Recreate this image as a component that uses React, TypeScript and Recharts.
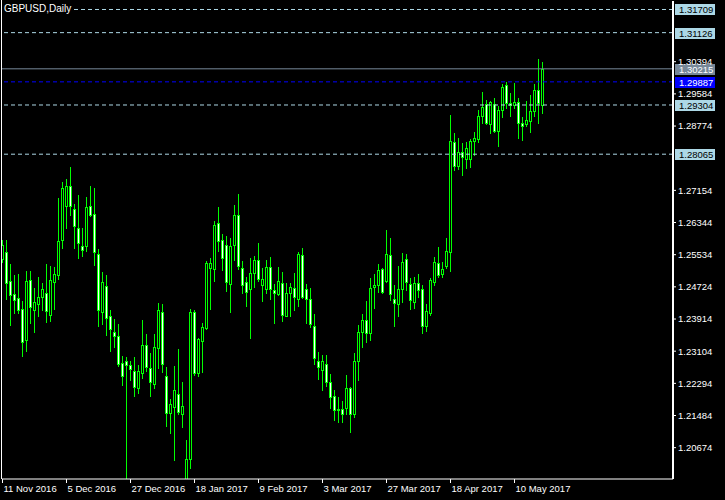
import { ComposedChart, Bar, XAxis, YAxis, ReferenceLine } from 'recharts';

const FONT = '"Liberation Sans", Arial, sans-serif';

// daily bars, 11 Nov 2016 .. 19 May 2017
const opens = [
    1.2543, 1.2559, 1.2486, 1.2454, 1.2444, 1.2416, 1.2339, 1.2489, 1.2413, 1.2429,
    1.2446, 1.2456, 1.2402, 1.2485, 1.2501, 1.2590, 1.2677, 1.2726, 1.2668, 1.2620,
    1.2575, 1.2576, 1.2675, 1.2655, 1.2554, 1.2410, 1.2475, 1.2398, 1.2359, 1.2348,
    1.2281, 1.2285, 1.2276, 1.2261, 1.2218, 1.2256, 1.2325, 1.2267, 1.2228, 1.2318,
    1.2408, 1.2247, 1.2155, 1.2171, 1.2202, 1.2153, 1.1989, 1.2040, 1.2408, 1.2256,
    1.2337, 1.2370, 1.2519, 1.2518, 1.2632, 1.2590, 1.2577, 1.2479, 1.2577, 1.2653,
    1.2519, 1.2484, 1.2466, 1.2507, 1.2539, 1.2476, 1.2466, 1.2522, 1.2464, 1.2454,
    1.2481, 1.2400, 1.2456, 1.2469, 1.2441, 1.2552, 1.2466, 1.2441, 1.2373, 1.2285,
    1.2264, 1.2277, 1.2234, 1.2197, 1.2165, 1.2164, 1.2168, 1.2217, 1.2153, 1.2285,
    1.2358, 1.2388, 1.2355, 1.2473, 1.2476, 1.2517, 1.2488, 1.2552, 1.2441, 1.2428,
    1.2466, 1.2542, 1.2479, 1.2435, 1.2481, 1.2466, 1.2374, 1.2407, 1.2485, 1.2532,
    1.2506, 1.2525, 1.2561, 1.2836, 1.2776, 1.2811, 1.2794, 1.2794, 1.2839, 1.2844,
    1.2902, 1.2932, 1.2882, 1.2932, 1.2864, 1.2919, 1.2982, 1.2935, 1.2930, 1.2937,
    1.2884, 1.2882, 1.2891, 1.2915, 1.2968, 1.2931,
];
const highs = [
    1.2590, 1.2590, 1.2530, 1.2502, 1.2505, 1.2437, 1.2512, 1.2512, 1.2470, 1.2496,
    1.2482, 1.2530, 1.2525, 1.2522, 1.2697, 1.2737, 1.2744, 1.2774, 1.2681, 1.2704,
    1.2621, 1.2698, 1.2727, 1.2722, 1.2568, 1.2510, 1.2502, 1.2414, 1.2392, 1.2379,
    1.2298, 1.2296, 1.2286, 1.2296, 1.2276, 1.2389, 1.2353, 1.2306, 1.2353, 1.2432,
    1.2428, 1.2270, 1.2190, 1.2273, 1.2316, 1.2233, 1.2087, 1.2416, 1.2414, 1.2344,
    1.2381, 1.2537, 1.2544, 1.2638, 1.2673, 1.2605, 1.2600, 1.2595, 1.2679, 1.2706,
    1.2537, 1.2497, 1.2544, 1.2550, 1.2583, 1.2519, 1.2539, 1.2547, 1.2479, 1.2522,
    1.2510, 1.2482, 1.2482, 1.2507, 1.2560, 1.2570, 1.2479, 1.2470, 1.2404, 1.2308,
    1.2301, 1.2301, 1.2252, 1.2213, 1.2196, 1.2186, 1.2250, 1.2219, 1.2307, 1.2376,
    1.2404, 1.2438, 1.2495, 1.2505, 1.2530, 1.2520, 1.2616, 1.2595, 1.2478, 1.2525,
    1.2558, 1.2555, 1.2495, 1.2497, 1.2505, 1.2476, 1.2429, 1.2494, 1.2547, 1.2573,
    1.2534, 1.2595, 1.2905, 1.2860, 1.2847, 1.2835, 1.2837, 1.2845, 1.2862, 1.2918,
    1.2963, 1.2943, 1.2940, 1.2948, 1.2928, 1.2983, 1.2989, 1.2961, 1.2986, 1.2947,
    1.2899, 1.2940, 1.2955, 1.2983, 1.3046, 1.3038,
];
const lows = [
    1.2535, 1.2442, 1.2376, 1.2406, 1.2407, 1.2299, 1.2312, 1.2382, 1.2359, 1.2400,
    1.2415, 1.2385, 1.2386, 1.2417, 1.2492, 1.2569, 1.2621, 1.2654, 1.2569, 1.2546,
    1.2551, 1.2563, 1.2651, 1.2528, 1.2374, 1.2379, 1.2352, 1.2312, 1.2322, 1.2274,
    1.2226, 1.1950, 1.2238, 1.2198, 1.2206, 1.2244, 1.2261, 1.2198, 1.2218, 1.2269,
    1.2259, 1.2122, 1.2105, 1.2036, 1.2151, 1.2120, 1.1980, 1.2015, 1.2250, 1.2249,
    1.2259, 1.2367, 1.2417, 1.2488, 1.2563, 1.2516, 1.2463, 1.2410, 1.2541, 1.2518,
    1.2458, 1.2425, 1.2344, 1.2473, 1.2488, 1.2438, 1.2458, 1.2442, 1.2382, 1.2453,
    1.2386, 1.2399, 1.2400, 1.2415, 1.2425, 1.2445, 1.2382, 1.2372, 1.2279, 1.2240,
    1.2213, 1.2223, 1.2168, 1.2138, 1.2133, 1.2133, 1.2153, 1.2108, 1.2145, 1.2238,
    1.2322, 1.2334, 1.2339, 1.2419, 1.2460, 1.2456, 1.2485, 1.2440, 1.2374, 1.2400,
    1.2433, 1.2464, 1.2417, 1.2420, 1.2447, 1.2356, 1.2361, 1.2402, 1.2477, 1.2498,
    1.2496, 1.2520, 1.2513, 1.2767, 1.2769, 1.2755, 1.2771, 1.2773, 1.2804, 1.2836,
    1.2884, 1.2882, 1.2861, 1.2862, 1.2828, 1.2899, 1.2922, 1.2902, 1.2922, 1.2847,
    1.2843, 1.2877, 1.2863, 1.2902, 1.2885, 1.2911,
];
const closes = [
    1.2578, 1.2483, 1.2453, 1.2439, 1.2415, 1.2333, 1.2486, 1.2421, 1.2434, 1.2446,
    1.2466, 1.2412, 1.2489, 1.2504, 1.2587, 1.2721, 1.2726, 1.2676, 1.2625, 1.2582,
    1.2564, 1.2673, 1.2654, 1.2561, 1.2415, 1.2485, 1.2393, 1.2366, 1.2349, 1.2279,
    1.2249, 1.2276, 1.2266, 1.2221, 1.2261, 1.2325, 1.2271, 1.2233, 1.2320, 1.2413,
    1.2279, 1.2155, 1.2177, 1.2212, 1.2158, 1.2172, 1.2040, 1.2410, 1.2256, 1.2341,
    1.2371, 1.2532, 1.2532, 1.2627, 1.2587, 1.2544, 1.2484, 1.2575, 1.2653, 1.2524,
    1.2476, 1.2460, 1.2507, 1.2539, 1.2493, 1.2491, 1.2522, 1.2466, 1.2456, 1.2486,
    1.2401, 1.2456, 1.2471, 1.2448, 1.2554, 1.2447, 1.2441, 1.2380, 1.2292, 1.2270,
    1.2285, 1.2233, 1.2196, 1.2163, 1.2162, 1.2151, 1.2217, 1.2153, 1.2285, 1.2358,
    1.2388, 1.2355, 1.2469, 1.2476, 1.2516, 1.2459, 1.2554, 1.2454, 1.2431, 1.2466,
    1.2534, 1.2484, 1.2439, 1.2481, 1.2465, 1.2374, 1.2412, 1.2490, 1.2534, 1.2501,
    1.2517, 1.2562, 1.2839, 1.2777, 1.2811, 1.2799, 1.2821, 1.2839, 1.2847, 1.2903,
    1.2925, 1.2884, 1.2937, 1.2864, 1.2919, 1.2975, 1.2935, 1.2930, 1.2937, 1.2884,
    1.2877, 1.2893, 1.2915, 1.2968, 1.2935, 1.3021,
];

const xTickIdx = [0, 16, 32, 48, 64, 80, 96, 112, 128];
const xTickLabels = ['11 Nov 2016', '5 Dec 2016', '27 Dec 2016', '18 Jan 2017', '9 Feb 2017', '3 Mar 2017', '27 Mar 2017', '18 Apr 2017', '10 May 2017'];
const yTicks = [1.30394, 1.29584, 1.28774, 1.27154, 1.26344, 1.25534, 1.24724, 1.23914, 1.23104, 1.22294, 1.21484, 1.20674];

const levelPrices = [1.31709, 1.31126, 1.29304, 1.28065];
const bidPrice = 1.30215;
const alertPrice = 1.29887;

const data = opens.map((o, i) => ({
    i,
    o,
    h: highs[i],
    l: lows[i],
    c: closes[i],
    range: [lows[i], highs[i]],
}));

const Candle = (props: any) => {
    const { x, y, width, height, payload } = props;
    if (x == null || !payload) return null;
    const { o, h, l, c } = payload;
    const top = Math.min(y, y + height);
    const bottom = Math.max(y, y + height);
    const px = (p: number) => (h === l ? top : top + ((h - p) / (h - l)) * (bottom - top));
    const cx = Math.floor(x + width / 2) + 0.5;
    const bTop = Math.round(px(Math.max(o, c)));
    const bBot = Math.round(px(Math.min(o, c)));
    const bull = c >= o;
    return (
        <g>
            <line x1={cx} x2={cx} y1={Math.round(top)} y2={Math.round(bottom) + 1} stroke="#00ff00" strokeWidth={1} />
            <rect
                x={cx - 1}
                y={bTop + 0.5}
                width={2}
                height={Math.max(bBot - bTop, 0)}
                fill={bull ? '#000000' : '#ffffff'}
                stroke="#00ff00"
                strokeWidth={1}
            />
        </g>
    );
};

const PriceTag = (props: any) => {
    const { viewBox, text, bg, fg } = props;
    if (!viewBox) return null;
    const ly = Math.round(viewBox.y);
    const left = viewBox.x + viewBox.width + 2;
    return (
        <g>
            <rect x={left} y={ly - 5} width={40} height={11} fill={bg} />
            <text x={left + 4} y={ly + 4} fill={fg} fontSize={9.5} fontFamily={FONT}>{text}</text>
        </g>
    );
};

const XTick = (props: any) => {
    const { x, payload } = props;
    const idx = xTickIdx.indexOf(payload.value);
    return (
        <text x={x + 1} y={492} fill="#ffffff" fontSize={9.5} fontFamily={FONT} textAnchor="start">
            {idx >= 0 ? xTickLabels[idx] : ''}
        </text>
    );
};

export default function App() {
    return (
        <div style={{ position: 'absolute', left: 0, top: 0, width: 725, height: 500, background: '#000000', overflow: 'hidden' }}>
            <ComposedChart
                width={725}
                height={500}
                data={data}
                margin={{ top: 1, right: 0, left: 2, bottom: 0 }}
                style={{ background: '#000000' }}
            >
                <XAxis
                    dataKey="i"
                    type="number"
                    domain={[-0.125, 167.625]}
                    allowDataOverflow
                    ticks={xTickIdx}
                    interval={0}
                    height={21}
                    axisLine={{ stroke: '#ffffff' }}
                    tickLine={{ stroke: '#ffffff' }}
                    tickSize={4}
                    tick={<XTick />}
                />
                <YAxis
                    orientation="right"
                    type="number"
                    domain={[1.19885, 1.31923]}
                    allowDataOverflow
                    ticks={yTicks}
                    interval={0}
                    width={52}
                    axisLine={{ stroke: '#ffffff', strokeWidth: 2 }}
                    tickLine={{ stroke: '#ffffff' }}
                    tickSize={3}
                    tickMargin={2}
                    tickFormatter={(v: number) => v.toFixed(5)}
                    tick={{ fill: '#ffffff', fontSize: 9.5, fontFamily: FONT }}
                />
                <Bar dataKey="range" barSize={3} isAnimationActive={false} shape={(p: any) => <Candle {...p} />} />
                {levelPrices.map((p) => (
                    <ReferenceLine
                        key={p}
                        y={p}
                        stroke="#add8e6"
                        strokeDasharray="4 3"
                        label={<PriceTag text={p.toFixed(5)} bg="#add8e6" fg="#000000" />}
                    />
                ))}
                <ReferenceLine
                    y={bidPrice}
                    stroke="#778899"
                    label={<PriceTag text={bidPrice.toFixed(5)} bg="#778899" fg="#ffffff" />}
                />
                <ReferenceLine
                    y={alertPrice}
                    stroke="#0000ff"
                    strokeDasharray="4 3"
                    label={<PriceTag text={alertPrice.toFixed(5)} bg="#0000ff" fg="#ffffff" />}
                />
            </ComposedChart>
            <div style={{ position: 'absolute', left: 1, top: 0, width: 1, height: 479, background: '#ffffff' }} />
            <div
                style={{
                    position: 'absolute',
                    left: 3,
                    top: 3,
                    padding: '0 1px',
                    background: '#000000',
                    color: '#ffffff',
                    fontFamily: FONT,
                    fontSize: 10,
                    lineHeight: '12px',
                }}
            >
                GBPUSD,Daily
            </div>
        </div>
    );
}
